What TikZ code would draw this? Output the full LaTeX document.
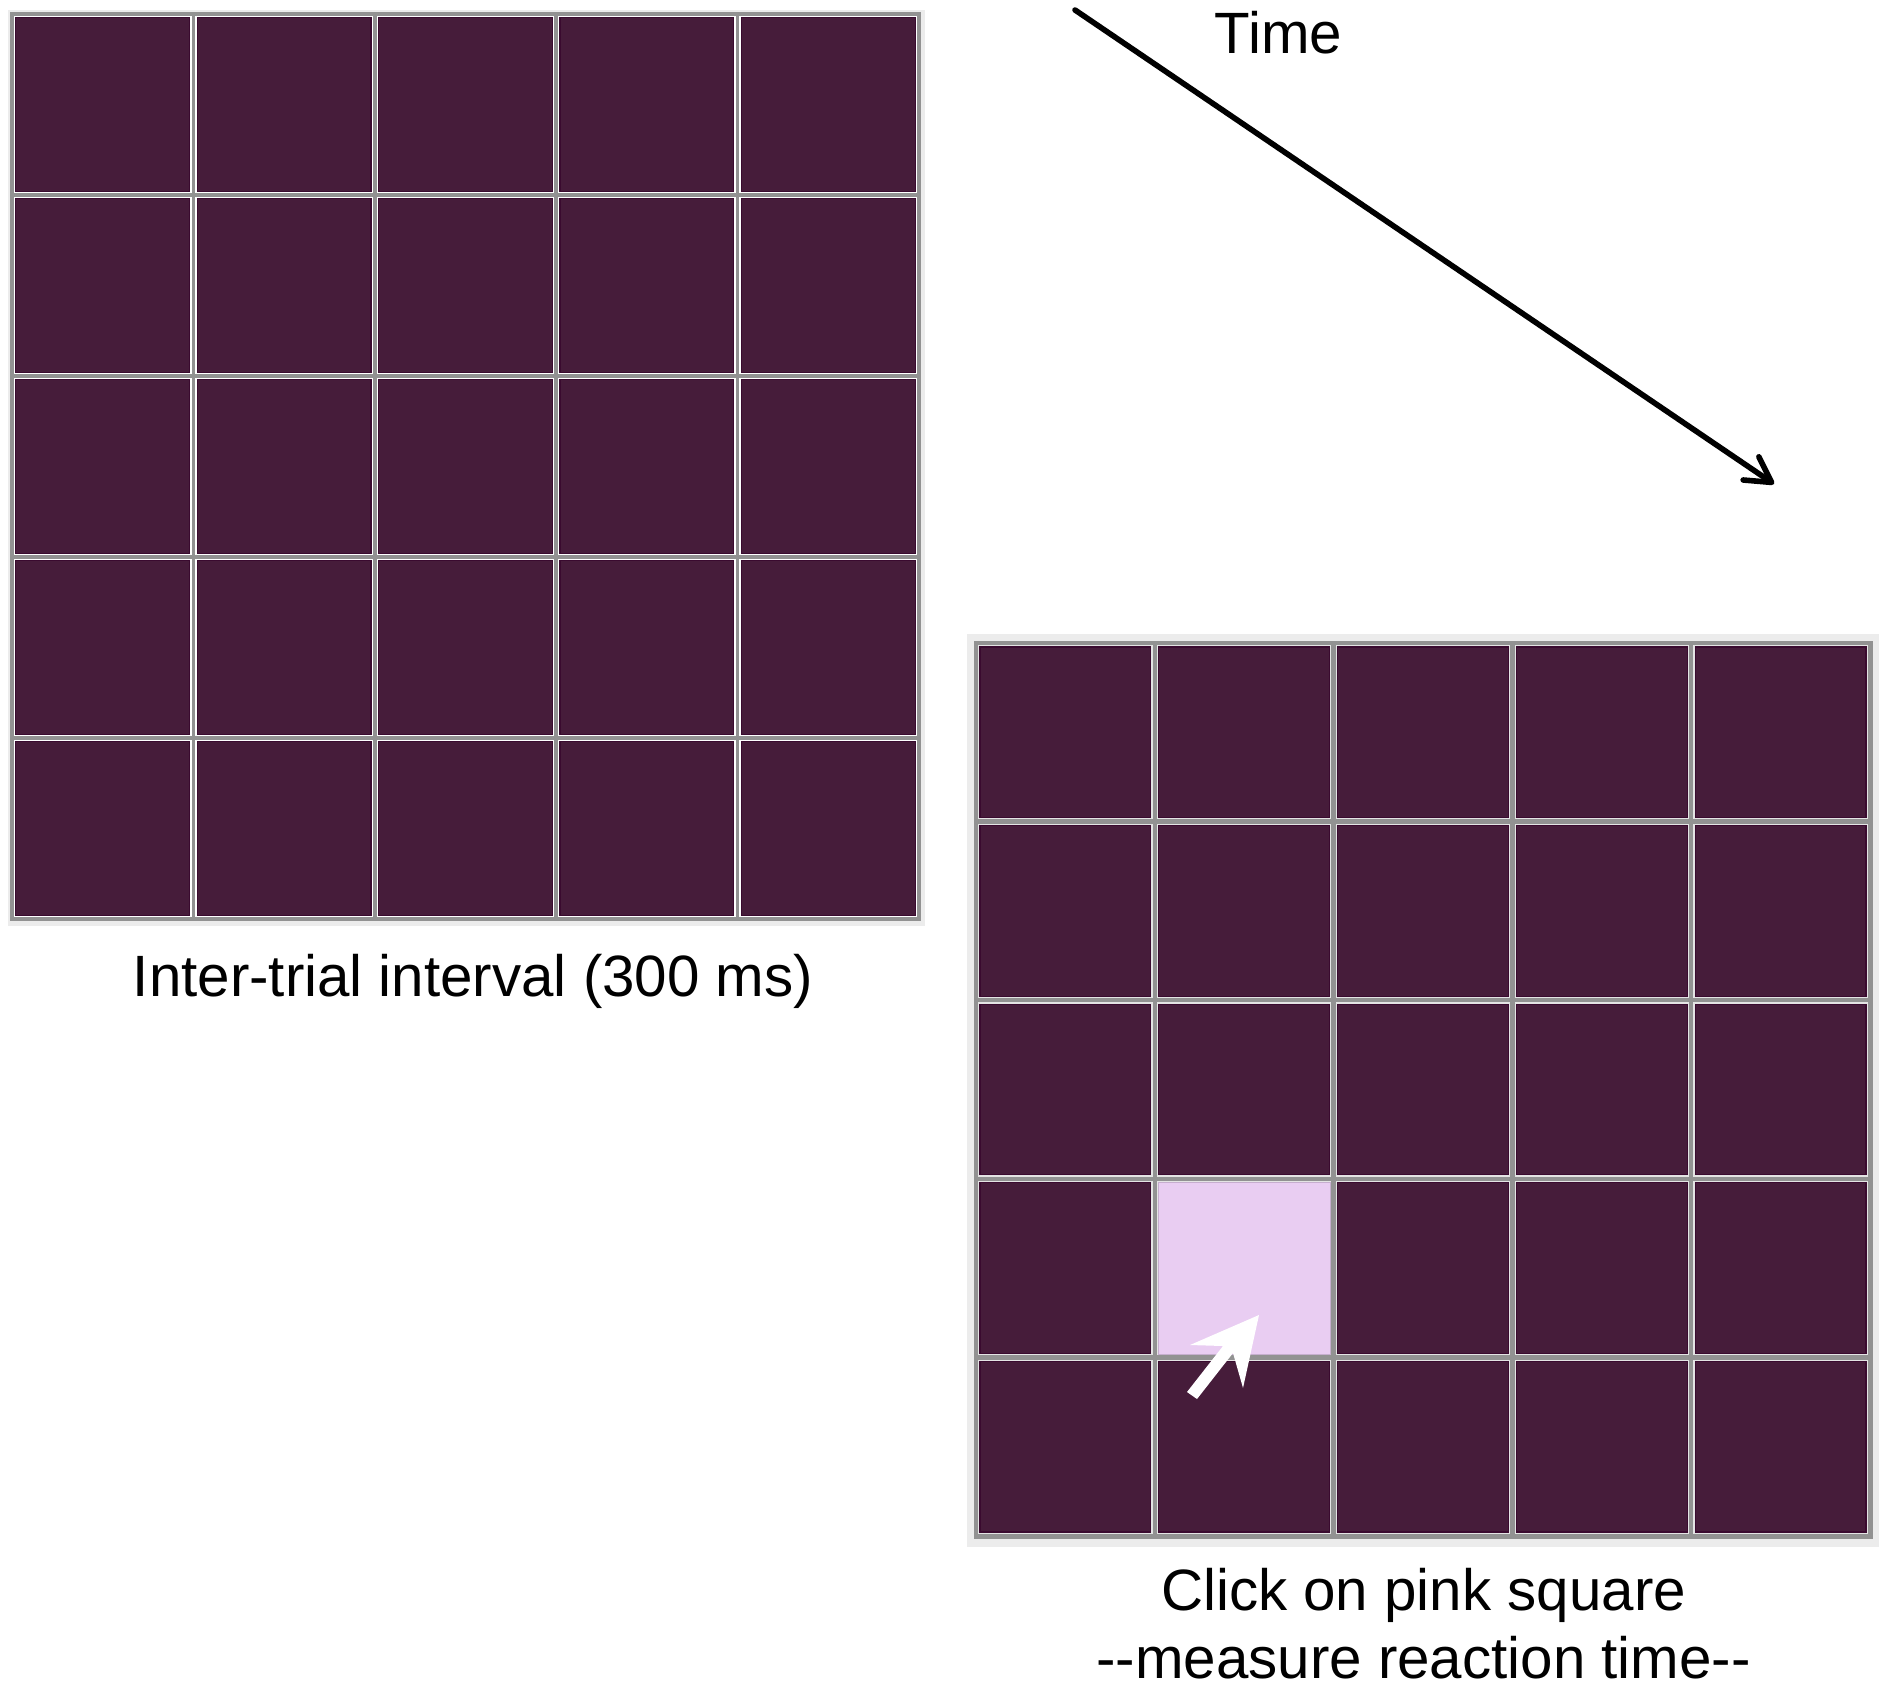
\documentclass[tikz,border=0pt]{standalone}
\usepackage{fontspec}
\setmainfont{Liberation Sans}
\usetikzlibrary{arrows.meta}
\definecolor{cellpurple}{HTML}{461C3A}
\definecolor{celledge}{HTML}{3A0A2F}
\definecolor{pinkcell}{HTML}{E9CDF2}
\definecolor{gridline}{HTML}{929292}
\definecolor{gridbg}{HTML}{ECECEC}
\tikzset{
  lbl/.style={anchor=base, inner sep=0pt, font=\fontsize{58.3}{70}\selectfont},
  cellfill/.style={fill=cellpurple, draw=celledge, line width=1.2pt},
  pinkfill/.style={fill=pinkcell, draw=pinkcell!85!black, line width=0.6pt},
  timearrow/.style={line width=5.6pt, line cap=round, -{Straight Barb[length=25pt,width=28pt,round]}},
}
\begin{document}
\begin{tikzpicture}[x=1pt,y=-1pt]
\useasboundingbox (0,0) rectangle (1890,1689);
\fill[white] (0,0) rectangle (1890,1689);

% ---------- left grid ----------
\fill[gridbg] (8,10) rectangle (925,926);
\fill[gridline] (10.3,12.3) rectangle (920.7,920.7);
\foreach \i in {0,...,4}{
  \foreach \j in {0,...,4}{
    \pgfmathsetmacro\xa{12+181.4*\i}
    \pgfmathsetmacro\xb{12+181.4*(\i+1)}
    \pgfmathsetmacro\ya{14+181*\j}
    \pgfmathsetmacro\yb{14+181*(\j+1)}
    \fill[white] (\xa+1.8,\ya+1.8) rectangle (\xb-1.8,\yb-1.8);
    \path[cellfill] (\xa+3.8,\ya+3.8) rectangle (\xb-3.8,\yb-3.8);
  }
}

% ---------- right grid ----------
\fill[gridbg] (967,634) rectangle (1879,1547);
\fill[gridline] (973.5,640.5) rectangle (1872.5,1538.5);
\foreach \i in {0,...,4}{
  \foreach \j in {0,...,4}{
    \pgfmathsetmacro\xa{976+178.8*\i}
    \pgfmathsetmacro\xb{976+178.8*(\i+1)}
    \pgfmathsetmacro\ya{643+178.6*\j}
    \pgfmathsetmacro\yb{643+178.6*(\j+1)}
    \fill[white!75!gridline] (\xa+2.2,\ya+2.2) rectangle (\xb-2.2,\yb-2.2);
    \ifnum\i=1 \ifnum\j=3
      \path[pinkfill] (\xa+3.6,\ya+3.6) rectangle (\xb-3.6,\yb-3.6);
    \else
      \path[cellfill] (\xa+4,\ya+4) rectangle (\xb-4,\yb-4);
    \fi\else
      \path[cellfill] (\xa+4,\ya+4) rectangle (\xb-4,\yb-4);
    \fi
  }
}

% white cursor arrow
\fill[white] (1259,1315) -- (1190,1345) -- (1223,1346) -- (1187,1392)
  -- (1197,1399) -- (1233,1353) -- (1243,1388) -- cycle;

% ---------- time arrow ----------
\coordinate (tstart) at (1075,10);
\coordinate (tend) at (1774,484);
\draw[timearrow] (tstart) -- (tend);
\node[lbl] (time) at (1278.5,53) {Time};

% ---------- labels ----------
\node[lbl] (iti) at (473,996) {Inter-trial interval (300 ms)};
\node[lbl] (click) at (1423.5,1610) {Click on pink square};
\node[lbl] (measure) at (1423.5,1678) {-{}-measure reaction time-{}-};
\end{tikzpicture}
\end{document}
